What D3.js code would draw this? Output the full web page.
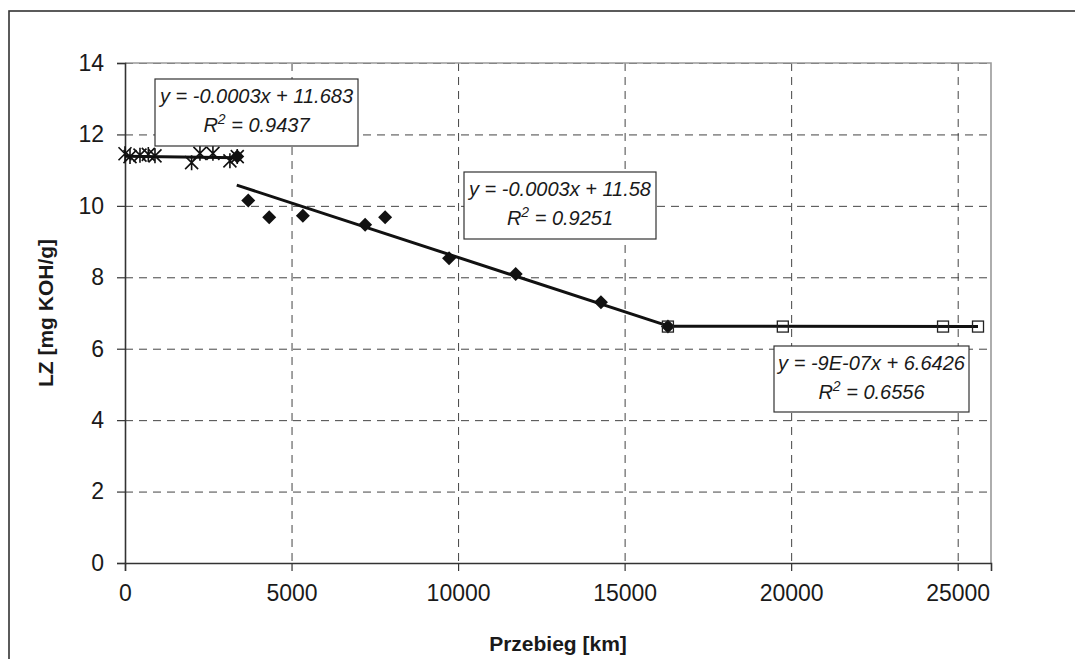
<!DOCTYPE html>
<html>
<head>
<meta charset="utf-8">
<script src="https://cdn.jsdelivr.net/npm/d3@7"></script>
<style>
    body { margin: 0; background: #fff; }
    text { font-family: "Liberation Sans", Arial, sans-serif; fill: #1a1a1a; }
</style>
</head>
<body>
<div id="chart"></div>
<script>
// przebieg [km] / LZ [mg KOH/g]
const starKm = [0, 150, 450, 700, 900, 2000, 2250, 2640, 3150, 3370];
const starLZ = [11.46, 11.38, 11.42, 11.44, 11.40, 11.21, 11.47, 11.47, 11.26, 11.38];

const diamondKm = [3370, 3700, 4330, 5340, 7210, 7810, 9730, 11730, 14290, 16300];
const diamondLZ = [11.38, 10.15, 9.68, 9.72, 9.47, 9.68, 8.53, 8.09, 7.30, 6.62];

const squareKm = [16300, 19750, 24560, 25610];
const squareLZ = [6.62, 6.62, 6.62, 6.62];

// trend line end points [x0, x1], [y0, y1]
const trendKm = [[0, 3370], [3355, 16300], [16300, 25610]];
const trendLZ = [[11.39, 11.35], [10.58, 6.64], [6.63, 6.62]];

const equations = ["y = -0.0003x + 11.683", "y = -0.0003x + 11.58", "y = -9E-07x + 6.6426"];
const rSquared = ["0.9437", "0.9251", "0.6556"];

const xTicks = [0, 5000, 10000, 15000, 20000, 25000];
const yTicks = [0, 2, 4, 6, 8, 10, 12, 14];

const xAxisLabel = "Przebieg [km]";
const yAxisLabel = "LZ [mg KOH/g]";

// chart size
const width = 1075;
const height = 659;
const margin = {top: 63, right: 84, bottom: 96, left: 125};

const xScale = d3.scaleLinear().domain([0, 26000]).range([margin.left, width - margin.right]);
const yScale = d3.scaleLinear().domain([0, 14]).range([height - margin.bottom, margin.top]);

const svg = d3.select("#chart").append("svg")
    .attr("width", width)
    .attr("height", height);

// outer frame (runs off the right and bottom of the picture)
svg.append("rect")
    .attr("x", 9).attr("y", 11)
    .attr("width", width + 20).attr("height", height + 20)
    .attr("fill", "none")
    .attr("stroke", "#333")
    .attr("stroke-width", 1.6);

const x0 = xScale.range()[0], x1 = xScale.range()[1];
const y0 = yScale.range()[0], y1 = yScale.range()[1];

// dashed grid
svg.append("g").selectAll("line").data(yTicks.filter(function(d){ return d > 0; })).enter()
    .append("line")
        .attr("x1", x0).attr("x2", x1)
        .attr("y1", function(d){ return yScale(d) + 0.5; })
        .attr("y2", function(d){ return yScale(d) + 0.5; })
        .attr("stroke", "#444")
        .attr("stroke-width", 1)
        .attr("stroke-dasharray", "8,6");

svg.append("g").selectAll("line").data(xTicks.filter(function(d){ return d > 0; })).enter()
    .append("line")
        .attr("x1", function(d){ return xScale(d) + 0.5; })
        .attr("x2", function(d){ return xScale(d) + 0.5; })
        .attr("y1", y1).attr("y2", y0)
        .attr("stroke", "#444")
        .attr("stroke-width", 1)
        .attr("stroke-dasharray", "8,6");

// plot border: top and right light grey
svg.append("path")
    .attr("d", "M" + x0 + "," + y1 + "H" + x1 + "V" + y0)
    .attr("fill", "none")
    .attr("stroke", "#9a9a9a")
    .attr("stroke-width", 1.6);

// axes
const xAxis = d3.axisBottom(xScale).tickValues(xTicks).tickSize(8).tickPadding(14).tickFormat(d3.format("d"));
const yAxis = d3.axisLeft(yScale).tickValues(yTicks).tickSize(8).tickPadding(13).tickFormat(d3.format("d"));

const gx = svg.append("g")
    .attr("transform", "translate(0," + y0 + ")")
    .call(xAxis);
const gy = svg.append("g")
    .attr("transform", "translate(" + x0 + ",0)")
    .call(yAxis);

[gx, gy].forEach(function(g){
    g.select(".domain").attr("stroke", "#333").attr("stroke-width", 1.6);
    g.selectAll(".tick line").attr("stroke", "#333").attr("stroke-width", 1.2);
    g.selectAll(".tick text")
        .attr("fill", "#1a1a1a")
        .style("font-family", "'Liberation Sans', Arial, sans-serif")
        .style("font-size", "23px");
});

// axis titles
svg.append("text")
    .attr("x", (x0 + x1) / 2)
    .attr("y", 651)
    .style("text-anchor", "middle")
    .style("font-size", "21px")
    .style("font-weight", "bold")
    .text(xAxisLabel);

svg.append("text")
    .attr("transform", "translate(53," + ((y0 + y1) / 2) + ") rotate(-90)")
    .style("text-anchor", "middle")
    .style("font-size", "21px")
    .style("font-weight", "bold")
    .text(yAxisLabel);

// trend lines
const trends = trendKm.map(function(k, i){
    return [[k[0], trendLZ[i][0]], [k[1], trendLZ[i][1]]];
});
svg.append("g").selectAll("path").data(trends).enter()
    .append("path")
        .attr("d", d3.line().x(function(d){ return xScale(d[0]); }).y(function(d){ return yScale(d[1]); }))
        .attr("fill", "none")
        .attr("stroke", "#111")
        .attr("stroke-width", 3);

// star markers
const stars = starKm.map(function(k, i){ return [k, starLZ[i]]; });
const s = 6.5;
svg.append("g").selectAll("path").data(stars).enter()
    .append("path")
        .attr("transform", function(d){ return "translate(" + xScale(d[0]) + "," + yScale(d[1]) + ")"; })
        .attr("d", "M" + (-s) + "," + (-s) + "L" + s + "," + s + "M" + (-s) + "," + s + "L" + s + "," + (-s) + "M0," + (-s - 1) + "V" + (s + 1))
        .attr("stroke", "#111")
        .attr("stroke-width", 1.6)
        .attr("fill", "none");

// diamond markers
const diamonds = diamondKm.map(function(k, i){ return [k, diamondLZ[i]]; });
svg.append("g").selectAll("path").data(diamonds).enter()
    .append("path")
        .attr("transform", function(d){ return "translate(" + xScale(d[0]) + "," + yScale(d[1]) + ")"; })
        .attr("d", "M0,-7L7,0L0,7L-7,0Z")
        .attr("fill", "#111");

// square markers
const squares = squareKm.map(function(k, i){ return [k, squareLZ[i]]; });
svg.append("g").selectAll("rect").data(squares).enter()
    .append("rect")
        .attr("x", function(d){ return xScale(d[0]) - 5.5; })
        .attr("y", function(d){ return yScale(d[1]) - 5.5; })
        .attr("width", 11)
        .attr("height", 11)
        .attr("fill", "#fff")
        .attr("fill-opacity", 0)
        .attr("stroke", "#222")
        .attr("stroke-width", 1.3);

// equation boxes
const boxes = [
    {x: 155, y: 79, w: 203, h: 67},
    {x: 464, y: 172, w: 192, h: 67},
    {x: 774, y: 346, w: 195, h: 66}
];

boxes.forEach(function(b, i){
    const g = svg.append("g").attr("transform", "translate(" + b.x + "," + b.y + ")");
    g.append("rect")
        .attr("width", b.w).attr("height", b.h)
        .attr("fill", "#fff")
        .attr("stroke", "#333")
        .attr("stroke-width", 1.2);

    g.append("text")
        .attr("x", b.w / 2).attr("y", 24)
        .style("text-anchor", "middle")
        .style("font-size", "20px")
        .style("font-style", "italic")
        .text(equations[i]);

    const r = g.append("text")
        .attr("x", b.w / 2).attr("y", 53)
        .style("text-anchor", "middle")
        .style("font-size", "20px")
        .style("font-style", "italic");
    r.append("tspan").text("R");
    r.append("tspan").attr("dy", -8).style("font-size", "14px").text("2");
    r.append("tspan").attr("dy", 8).text(" = " + rSquared[i]);
});
</script>
</body>
</html>
